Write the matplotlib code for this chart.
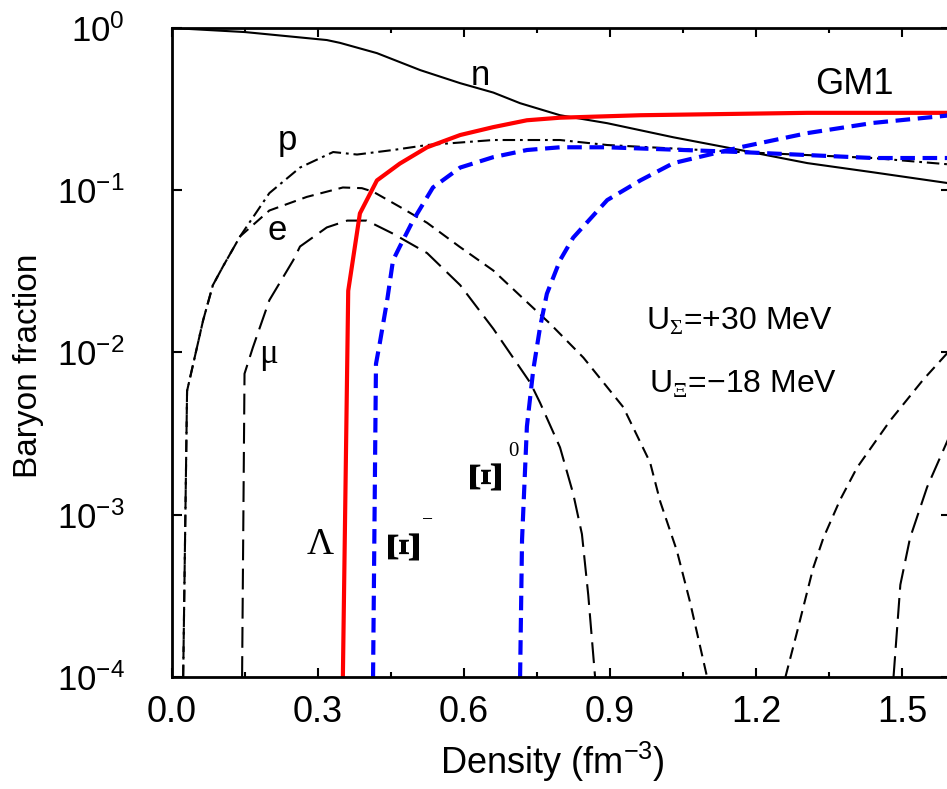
import numpy as np
import matplotlib
matplotlib.use('Agg')
import matplotlib.pyplot as plt
from matplotlib.ticker import MultipleLocator, NullLocator, FormatStrFormatter

plt.rcParams['font.family'] = ['Liberation Sans', 'DejaVu Sans']
plt.rcParams['mathtext.fontset'] = 'custom'
plt.rcParams['mathtext.rm'] = 'Liberation Sans'
plt.rcParams['mathtext.it'] = 'Liberation Sans:italic'
plt.rcParams['mathtext.cal'] = 'Liberation Serif'
plt.rcParams['lines.scale_dashes'] = False

# particle fractions (density in fm^-3)
n_x = [0.0, 0.15, 0.318, 0.345, 0.421, 0.51, 0.592, 0.66, 0.715, 0.797, 0.894, 1.03, 1.167, 1.305, 1.44, 1.6]
n_y = [1.0, 0.944, 0.843, 0.81, 0.70, 0.55, 0.457, 0.40, 0.344, 0.29, 0.259, 0.212, 0.177, 0.147, 0.129, 0.11]

p_x = [0.023, 0.031, 0.064, 0.084, 0.105, 0.14, 0.2, 0.263, 0.331, 0.38, 0.454, 0.524, 0.66, 0.797, 0.894, 1.167, 1.44, 1.6]
p_y = [1e-4, 0.0058, 0.0158, 0.026, 0.034, 0.052, 0.096, 0.138, 0.172, 0.166, 0.177, 0.19, 0.204, 0.204, 0.19, 0.172, 0.158, 0.144]

e_x = [0.023, 0.031, 0.064, 0.084, 0.105, 0.14, 0.2, 0.277, 0.351, 0.39, 0.413, 0.468, 0.524, 0.59, 0.66, 0.777,
       0.845, 0.927, 0.982, 1.003, 1.037, 1.064, 1.099, np.nan,
       1.26, 1.284, 1.317, 1.338, 1.372, 1.407, 1.475, 1.543, 1.6]
e_y = [1e-4, 0.0058, 0.0158, 0.026, 0.034, 0.052, 0.075, 0.091, 0.104, 0.103, 0.098, 0.079, 0.063, 0.045, 0.032, 0.015,
       0.0093, 0.0046, 0.0021, 0.0012, 6e-4, 2.9e-4, 1e-4, np.nan,
       1e-4, 1.9e-4, 4.7e-4, 7.2e-4, 1.23e-3, 1.95e-3, 3.8e-3, 6.8e-3, 0.0105]

mu_x = [0.144, 0.149, 0.166, 0.2, 0.249, 0.263, 0.318, 0.36, 0.40, 0.454, 0.524, 0.592, 0.66, 0.736, 0.756,
        0.797, 0.824, 0.842, 0.855, 0.869, np.nan,
        1.482, 1.496, 1.516, 1.551, 1.6]
mu_y = [1e-4, 0.0074, 0.0107, 0.021, 0.037, 0.045, 0.059, 0.065, 0.065, 0.054, 0.041, 0.026, 0.014, 0.0065, 0.0049,
        0.0026, 0.00135, 7.6e-4, 3.2e-4, 1e-4, np.nan,
        1e-4, 3.7e-4, 7.2e-4, 1.48e-3, 3.2e-3]

lam_x = [0.351, 0.362, 0.386, 0.421, 0.468, 0.524, 0.592, 0.66, 0.729, 0.797, 0.962, 1.305, 1.6]
lam_y = [1e-4, 0.024, 0.072, 0.115, 0.146, 0.184, 0.219, 0.245, 0.27, 0.28, 0.29, 0.30, 0.30]

xim_x = [0.413, 0.419, 0.427, 0.442, 0.454, 0.468, 0.495, 0.536, 0.592, 0.66, 0.729, 0.797, 0.894, 1.167, 1.44, 1.6]
xim_y = [1e-4, 0.0085, 0.0115, 0.021, 0.037, 0.045, 0.065, 0.104, 0.138, 0.16, 0.177, 0.184, 0.184, 0.172, 0.158, 0.158]

xi0_x = [0.715, 0.719, 0.729, 0.742, 0.756, 0.77, 0.797, 0.824, 0.894, 0.962, 1.03, 1.167, 1.305, 1.44, 1.6]
xi0_y = [1e-4, 7e-4, 0.0035, 0.0078, 0.0143, 0.023, 0.037, 0.051, 0.087, 0.115, 0.147, 0.184, 0.225, 0.26, 0.29]

fig = plt.figure(figsize=(9.47, 7.89), dpi=100)
# right spine sits just past the picture edge, like in the original crop
ax = fig.add_axes([0.1816, 0.1420, 0.8226, 0.8225])

ax.plot(n_x, n_y, color='black', lw=1.5)
ax.plot(p_x, p_y, color='black', lw=1.5, dashes=(9, 3.5, 2, 3.5))
ax.plot(e_x, e_y, color='black', lw=1.5, dashes=(8.5, 5))
ax.plot(mu_x, mu_y, color='black', lw=1.5, dashes=(15, 6))
ax.plot(lam_x, lam_y, color='red', lw=3)
ax.plot(xim_x, xim_y, color='blue', lw=3, dashes=(10.5, 5.5))
ax.plot(xi0_x, xi0_y, color='blue', lw=3, dashes=(10.5, 5.5))

ax.set_yscale('log')
ax.set_xlim(0, 1.6)
ax.set_ylim(1e-4, 1)
ax.xaxis.set_major_locator(MultipleLocator(0.3))
ax.xaxis.set_minor_locator(MultipleLocator(0.15))
ax.xaxis.set_major_formatter(FormatStrFormatter('%.1f'))
ax.yaxis.set_minor_locator(NullLocator())

ax.tick_params(which='both', direction='in', top=True, right=True, width=1.5)
ax.tick_params(axis='x', which='major', length=6.5, labelsize=26, pad=13)
ax.tick_params(axis='x', which='minor', length=3.5)
ax.tick_params(axis='y', which='major', length=7, labelsize=25, pad=34)
for s in ax.spines.values():
    s.set_linewidth(2)

fig.text(28 / 947, 1 - 366 / 789, 'Baryon fraction', rotation=90, ha='center', va='center', fontsize=24)
fig.text(552 / 947, 1 - 762 / 789, 'Density (fm$^{-3}$)', ha='center', va='center', fontsize=26)

# curve labels
ax.text(0.633, 10 ** (-(85 - 28) / 162), 'n', fontsize=25, ha='center', va='baseline')
ax.text(0.238, 10 ** (-(150 - 28) / 162), 'p', fontsize=25, ha='center', va='baseline')
ax.text(0.216, 10 ** (-(240 - 28) / 162), 'e', fontsize=25, ha='center', va='baseline')
ax.text(0.199, 10 ** (-(362 - 28) / 162), 'μ', fontsize=25, ha='center', va='baseline', family='Liberation Serif')
ax.text(0.304, 10 ** (-(553 - 28) / 162), 'Λ', fontsize=27, ha='center', va='baseline', family='Liberation Serif')
ax.text(0.482, 10 ** (-(543 - 28) / 162), 'Ξ', fontsize=34, ha='center', va='center', rotation=90,
        family='Liberation Serif', fontweight='bold')
ax.text(0.524, 10 ** (-(520 - 28) / 162), '−', fontsize=14, ha='center', va='center', family='Liberation Serif')
ax.text(0.650, 10 ** (-(473 - 28) / 162), 'Ξ', fontsize=34, ha='center', va='center', rotation=90,
        family='Liberation Serif', fontweight='bold')
ax.text(0.702, 10 ** (-(451 - 28) / 162), '0', fontsize=15, ha='center', va='center', family='Liberation Serif')
ax.text(1.401, 10 ** (-(94 - 28) / 162), 'GM1', fontsize=26, ha='center', va='baseline')
ax.text(0.973, 10 ** (-(329 - 28) / 162), r'U$_{\mathcal{Σ}}$=+30 MeV', fontsize=23, ha='left', va='baseline')
ax.text(0.980, 10 ** (-(392 - 28) / 162), r'U$_{\mathcal{Ξ}}$=−18 MeV', fontsize=23, ha='left', va='baseline')

fig.savefig('out.png', dpi=100)
